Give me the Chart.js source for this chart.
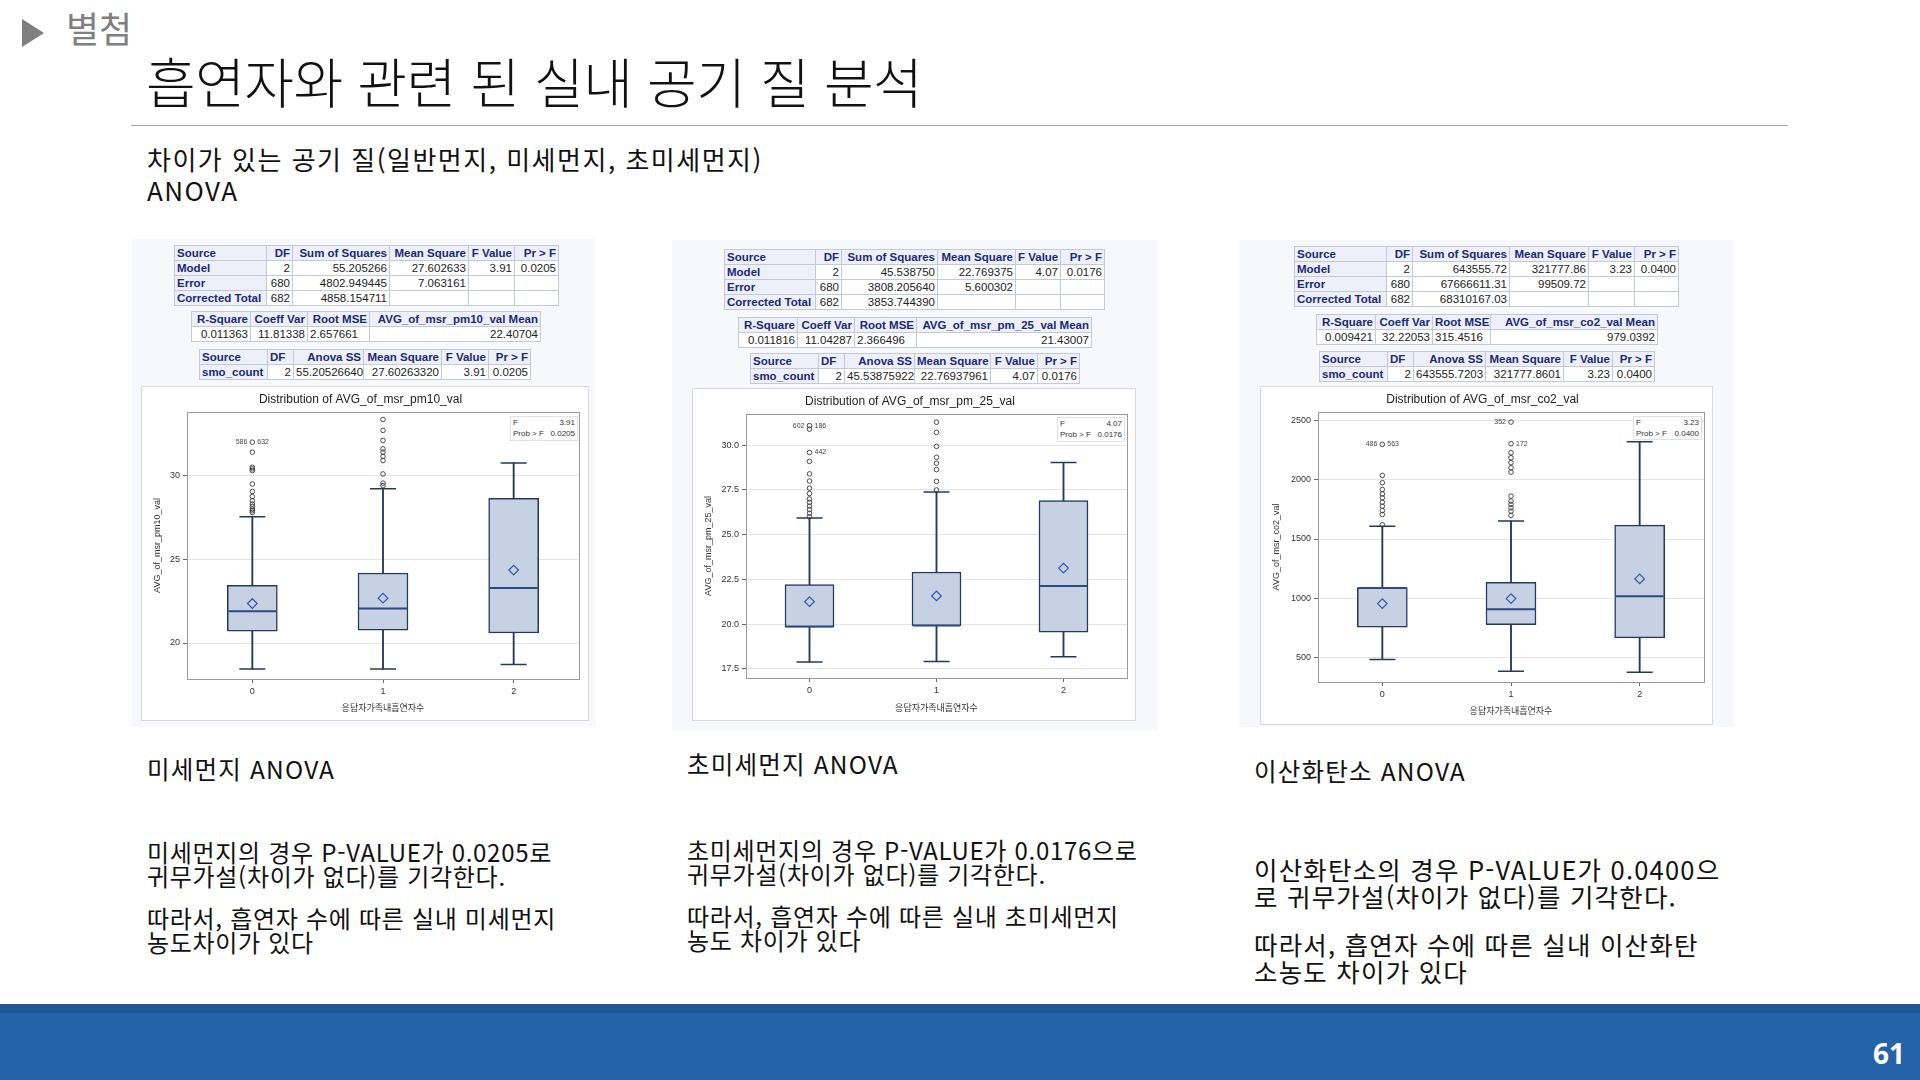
<!DOCTYPE html>
<html lang="ko">
<head>
<meta charset="utf-8">
<title>흡연자와 관련 된 실내 공기 질 분석</title>
<script src="https://cdn.jsdelivr.net/npm/chart.js@4.4.1/dist/chart.umd.min.js"></script>
<style>
    html, body { margin: 0; padding: 0; }
    body { width: 1920px; height: 1080px; position: relative; overflow: hidden; background: #fff;
           font-family: "Noto Sans CJK KR", "Noto Sans", sans-serif; color: #111; }
    .abs { position: absolute; white-space: nowrap; }
    #tri { left: 22px; top: 19px; width: 0; height: 0; border-top: 14px solid transparent;
           border-bottom: 14px solid transparent; border-left: 22px solid #7f7f7f; }
    #section { left: 66px; top: 4px; font-size: 36px; line-height: 46px; color: #7f7f7f; }
    #title { left: 146px; top: 48px; font-size: 54px; line-height: 66px; font-weight: 300; letter-spacing: -0.5px; }
    #rule { left: 131px; top: 125px; width: 1657px; height: 0; border-top: 1.5px solid #a6a6a6; }
    #subtitle { left: 147px; top: 143px; font-size: 26px; line-height: 31px; letter-spacing: 1.5px; }
    .panel { position: absolute; background: #f7f8fb; }
    .frame { position: absolute; background: #fff; outline: 1px solid #d8d8d8; }
    .sas { position: absolute; border-collapse: collapse; table-layout: fixed; background: #fff;
           font-family: "Liberation Sans", Arial, sans-serif; font-size: 11.5px; }
    .sas td, .sas th { border: 1px solid #c3c9d6; padding: 0 2px; line-height: 14px; height: 14px;
           white-space: nowrap; overflow: hidden; text-align: right; color: #222; font-weight: normal; }
    .sas th { background: #edf0f8; color: #1a2a78; font-weight: bold; }
    .sas .l { text-align: left; }
    .inset { position: absolute; background: #fff; border: 1px solid #e0e0e0; font-family: "Liberation Sans", Arial, sans-serif;
             font-size: 8px; line-height: 11px; color: #333; padding: 0 2px; box-sizing: border-box; }
    .inset div { display: flex; justify-content: space-between; }
    .head { font-size: 24.5px; line-height: 30px; letter-spacing: 1.2px; }
    .para { font-size: 24px; line-height: 24px; letter-spacing: 0.7px; }
    .para3 { font-size: 25.5px; line-height: 27px; letter-spacing: 1.2px; }
    #footer { left: 0; top: 1004px; width: 1920px; height: 76px; background: #2563a9; border-top: 9px solid #1f5796; box-sizing: border-box; }
    #page { left: 1873px; top: 1033px; font-family: "Open Sans", "Noto Sans", sans-serif; font-weight: bold; font-size: 28px; line-height: 40px; color: #fff; }
</style>
</head>
<body>

<div id="tri" class="abs"></div>
<div id="section" class="abs">별첨</div>
<div id="title" class="abs">흡연자와 관련 된 실내 공기 질 분석</div>
<div id="rule" class="abs"></div>
<div id="subtitle" class="abs">차이가 있는 공기 질(일반먼지, 미세먼지, 초미세먼지)<br>ANOVA</div>

<!-- Panel 1: PM10 -->
<div class="panel" style="left:132px; top:239px; width:463px; height:488px;"></div>
<table class="sas" style="left:174px; top:245px; width:384px;">
    <colgroup><col style="width:92px"><col style="width:26px"><col style="width:97px"><col style="width:79px"><col style="width:46px"><col style="width:44px"></colgroup>
    <tr><th class="l">Source</th><th>DF</th><th>Sum of Squares</th><th>Mean Square</th><th>F Value</th><th>Pr &gt; F</th></tr>
    <tr><th class="l">Model</th><td>2</td><td>55.205266</td><td>27.602633</td><td>3.91</td><td>0.0205</td></tr>
    <tr><th class="l">Error</th><td>680</td><td>4802.949445</td><td>7.063161</td><td></td><td></td></tr>
    <tr><th class="l">Corrected Total</th><td>682</td><td>4858.154711</td><td></td><td></td><td></td></tr>
</table>
<table class="sas" style="left:191px; top:311px; width:349px;">
    <colgroup><col style="width:59px"><col style="width:57px"><col style="width:62px"><col style="width:171px"></colgroup>
    <tr><th>R-Square</th><th>Coeff Var</th><th>Root MSE</th><th>AVG_of_msr_pm10_val Mean</th></tr>
    <tr><td>0.011363</td><td>11.81338</td><td class="l">2.657661</td><td>22.40704</td></tr>
</table>
<table class="sas" style="left:199px; top:349px; width:331px;">
    <colgroup><col style="width:68px"><col style="width:26px"><col style="width:70px"><col style="width:78px"><col style="width:47px"><col style="width:42px"></colgroup>
    <tr><th class="l">Source</th><th class="l">DF</th><th>Anova SS</th><th>Mean Square</th><th>F Value</th><th>Pr &gt; F</th></tr>
    <tr><th class="l">smo_count</th><td>2</td><td>55.20526640</td><td>27.60263320</td><td>3.91</td><td>0.0205</td></tr>
</table>
<canvas id="pm10-chart" class="frame" width="446" height="333" style="left:142px; top:387px;"></canvas>
<div class="inset" style="left:510px; top:416px; width:68px; height:25px;"><div><span>F</span><span>3.91</span></div><div><span>Prob &gt; F</span><span>0.0205</span></div></div>

<!-- Panel 2: PM2.5 -->
<div class="panel" style="left:672px; top:240px; width:486px; height:490px;"></div>
<table class="sas" style="left:724px; top:249px; width:380px;">
    <colgroup><col style="width:91px"><col style="width:26px"><col style="width:96px"><col style="width:78px"><col style="width:45px"><col style="width:44px"></colgroup>
    <tr><th class="l">Source</th><th>DF</th><th>Sum of Squares</th><th>Mean Square</th><th>F Value</th><th>Pr &gt; F</th></tr>
    <tr><th class="l">Model</th><td>2</td><td>45.538750</td><td>22.769375</td><td>4.07</td><td>0.0176</td></tr>
    <tr><th class="l">Error</th><td>680</td><td>3808.205640</td><td>5.600302</td><td></td><td></td></tr>
    <tr><th class="l">Corrected Total</th><td>682</td><td>3853.744390</td><td></td><td></td><td></td></tr>
</table>
<table class="sas" style="left:738px; top:317px; width:353px;">
    <colgroup><col style="width:59px"><col style="width:57px"><col style="width:62px"><col style="width:175px"></colgroup>
    <tr><th>R-Square</th><th>Coeff Var</th><th>Root MSE</th><th>AVG_of_msr_pm_25_val Mean</th></tr>
    <tr><td>0.011816</td><td>11.04287</td><td class="l">2.366496</td><td>21.43007</td></tr>
</table>
<table class="sas" style="left:750px; top:353px; width:329px;">
    <colgroup><col style="width:68px"><col style="width:26px"><col style="width:70px"><col style="width:76px"><col style="width:47px"><col style="width:42px"></colgroup>
    <tr><th class="l">Source</th><th class="l">DF</th><th>Anova SS</th><th>Mean Square</th><th>F Value</th><th>Pr &gt; F</th></tr>
    <tr><th class="l">smo_count</th><td>2</td><td>45.53875922</td><td>22.76937961</td><td>4.07</td><td>0.0176</td></tr>
</table>
<canvas id="pm25-chart" class="frame" width="442" height="331" style="left:693px; top:389px;"></canvas>
<div class="inset" style="left:1057px; top:417px; width:68px; height:25px;"><div><span>F</span><span>4.07</span></div><div><span>Prob &gt; F</span><span>0.0176</span></div></div>

<!-- Panel 3: CO2 -->
<div class="panel" style="left:1239px; top:240px; width:495px; height:487px;"></div>
<table class="sas" style="left:1294px; top:246px; width:384px;">
    <colgroup><col style="width:92px"><col style="width:26px"><col style="width:97px"><col style="width:79px"><col style="width:46px"><col style="width:44px"></colgroup>
    <tr><th class="l">Source</th><th>DF</th><th>Sum of Squares</th><th>Mean Square</th><th>F Value</th><th>Pr &gt; F</th></tr>
    <tr><th class="l">Model</th><td>2</td><td>643555.72</td><td>321777.86</td><td>3.23</td><td>0.0400</td></tr>
    <tr><th class="l">Error</th><td>680</td><td>67666611.31</td><td>99509.72</td><td></td><td></td></tr>
    <tr><th class="l">Corrected Total</th><td>682</td><td>68310167.03</td><td></td><td></td><td></td></tr>
</table>
<table class="sas" style="left:1316px; top:314px; width:341px;">
    <colgroup><col style="width:59px"><col style="width:57px"><col style="width:58px"><col style="width:167px"></colgroup>
    <tr><th>R-Square</th><th>Coeff Var</th><th>Root MSE</th><th>AVG_of_msr_co2_val Mean</th></tr>
    <tr><td>0.009421</td><td>32.22053</td><td class="l">315.4516</td><td>979.0392</td></tr>
</table>
<table class="sas" style="left:1319px; top:351px; width:335px;">
    <colgroup><col style="width:68px"><col style="width:26px"><col style="width:72px"><col style="width:78px"><col style="width:49px"><col style="width:42px"></colgroup>
    <tr><th class="l">Source</th><th class="l">DF</th><th>Anova SS</th><th>Mean Square</th><th>F Value</th><th>Pr &gt; F</th></tr>
    <tr><th class="l">smo_count</th><td>2</td><td>643555.7203</td><td>321777.8601</td><td>3.23</td><td>0.0400</td></tr>
</table>
<canvas id="co2-chart" class="frame" width="451" height="337" style="left:1261px; top:387px;"></canvas>
<div class="inset" style="left:1633px; top:416px; width:69px; height:24px;"><div><span>F</span><span>3.23</span></div><div><span>Prob &gt; F</span><span>0.0400</span></div></div>

<!-- Captions -->
<div class="abs head" style="left:147px; top:754px;">미세먼지 ANOVA</div>
<div class="abs head" style="left:687px; top:749px;">초미세먼지 ANOVA</div>
<div class="abs head" style="left:1254px; top:756px;">이산화탄소 ANOVA</div>

<div class="abs para" style="left:147px; top:840px;">미세먼지의 경우 P-VALUE가 0.0205로<br>귀무가설(차이가 없다)를 기각한다.</div>
<div class="abs para" style="left:147px; top:906px;">따라서, 흡연자 수에 따른 실내 미세먼지<br>농도차이가 있다</div>

<div class="abs para" style="left:687px; top:838px;">초미세먼지의 경우 P-VALUE가 0.0176으로<br>귀무가설(차이가 없다)를 기각한다.</div>
<div class="abs para" style="left:687px; top:904px;">따라서, 흡연자 수에 따른 실내 초미세먼지<br>농도 차이가 있다</div>

<div class="abs para3" style="left:1254px; top:855px;">이산화탄소의 경우 P-VALUE가 0.0400으<br>로 귀무가설(차이가 없다)를 기각한다.</div>
<div class="abs para3" style="left:1254px; top:930px;">따라서, 흡연자 수에 따른 실내 이산화탄<br>소농도 차이가 있다</div>

<div id="footer" class="abs"></div>
<div id="page" class="abs">61</div>

<script>
// Smoker count groups on the x axis.
const groups = ['0', '1', '2'];
const X_TITLE = '응답자가족내흡연자수';

// PM10 box plot statistics, per group.
const pm10Q1 = [20.70, 20.76, 20.60];
const pm10Q3 = [23.44, 24.18, 28.64];
const pm10Median = [21.90, 22.06, 23.28];
const pm10Mean = [22.36, 22.68, 24.36];
const pm10WhiskerLow = [18.44, 18.44, 18.72];
const pm10WhiskerHigh = [27.54, 29.22, 30.76];
const pm10Outliers0 = [27.8, 27.9, 28.0, 28.15, 28.3, 28.5, 28.75, 29.05, 29.5, 30.3, 30.4, 30.5, 31.4, 32.0];
const pm10Outliers1 = [29.4, 29.55, 30.1, 30.9, 31.15, 31.4, 31.6, 32.1, 32.7, 33.35];
const pm10Outliers2 = [];
const pm10Ticks = [20, 25, 30];

// PM2.5 box plot statistics, per group.
const pm25Q1 = [19.83, 19.90, 19.55];
const pm25Q3 = [22.20, 22.91, 26.90];
const pm25Median = [19.86, 19.92, 22.13];
const pm25Mean = [21.25, 21.57, 23.13];
const pm25WhiskerLow = [17.87, 17.90, 18.17];
const pm25WhiskerHigh = [25.93, 27.39, 29.03];
const pm25Outliers0 = [26.0, 26.2, 26.4, 26.6, 26.8, 27.0, 27.3, 27.6, 28.0, 28.4, 29.1, 29.6, 30.9, 31.1];
const pm25Outliers1 = [27.5, 27.98, 28.64, 29.0, 29.33, 29.94, 30.72, 31.29];
const pm25Outliers2 = [];
const pm25Ticks = [17.5, 20.0, 22.5, 25.0, 27.5, 30.0];

// CO2 box plot statistics, per group.
const co2Q1 = [755, 777, 665];
const co2Q3 = [1090, 1135, 1617];
const co2Median = [1086, 907, 1017];
const co2Mean = [955, 997, 1163];
const co2WhiskerLow = [482, 383, 375];
const co2WhiskerHigh = [1608, 1651, 2321];
const co2Outliers0 = [1620, 1707, 1740, 1777, 1810, 1848, 1880, 1918, 1975, 2037, 2299];
const co2Outliers1 = [1699, 1735, 1763, 1792, 1820, 1862, 2065, 2101, 2144, 2186, 2228, 2304, 2487];
const co2Outliers2 = [];
const co2Ticks = [500, 1000, 1500, 2000, 2500];

// Observation labels printed beside the extreme outliers: [group, value, left text, right text].
const pm10OutlierLabels = [['0', 32.0, '586', '632']];
const pm25OutlierLabels = [['0', 31.1, '602', '186'], ['0', 29.6, '', '442']];
const co2OutlierLabels = [['0', 2299, '486', '563'], ['1', 2304, '', '172'], ['1', 2487, '352', '']];

const LINE_COLOR = '#24395e';
const BOX_FILL = '#c6d1e4';
const MEDIAN_COLOR = '#2d4b82';
const MEAN_COLOR = '#3556a8';

// Draws the frame round the plot area.
const plotFrame = {
    id: 'plotFrame',
    beforeDatasetsDraw(chart) {
        const a = chart.chartArea;
        const ctx = chart.ctx;
        ctx.save();
        ctx.strokeStyle = '#9a9a9a';
        ctx.lineWidth = 1;
        ctx.strokeRect(Math.round(a.left) + 0.5, Math.round(a.top) + 0.5,
            Math.round(a.right - a.left), Math.round(a.bottom - a.top));
        ctx.restore();
    }
};

// Writes observation labels next to outliers, positioned through the chart scales.
const outlierText = {
    id: 'outlierText',
    afterDatasetsDraw(chart, args, opts) {
        const ctx = chart.ctx;
        ctx.save();
        ctx.font = '7px "Liberation Sans", Arial';
        ctx.fillStyle = '#444';
        ctx.textBaseline = 'middle';
        for (const [g, v, left, right] of (opts.items || [])) {
            const x = chart.scales.x.getPixelForValue(groups.indexOf(g));
            const y = chart.scales.y.getPixelForValue(v);
            ctx.textAlign = 'right';
            ctx.fillText(left, x - 5, y);
            ctx.textAlign = 'left';
            ctx.fillText(right, x + 5, y);
        }
        ctx.restore();
    }
};

function point_dataset(data, style, radius, color, width, order) {
    return {
        type: 'line',
        data: data,
        showLine: false,
        pointStyle: style,
        pointRadius: radius,
        pointHoverRadius: radius,
        pointBorderColor: color,
        borderColor: color,
        pointBorderWidth: width,
        pointBackgroundColor: 'rgba(0,0,0,0)',
        backgroundColor: 'rgba(0,0,0,0)',
        order: order,
    };
}

function box_chart(id, o) {
    const outliers = [];
    o.outliers.forEach((list, g) => list.forEach(v => outliers.push({ x: groups[g], y: v })));

    return new Chart(document.getElementById(id), {
        type: 'bar',
        data: {
            labels: groups,
            datasets: [
                {
                    label: 'whisker',
                    data: o.whiskerLow.map((v, i) => [v, o.whiskerHigh[i]]),
                    backgroundColor: LINE_COLOR,
                    barThickness: 1.2,
                    grouped: false,
                    order: 7,
                },
                {
                    label: 'box',
                    data: o.q1.map((v, i) => [v, o.q3[i]]),
                    backgroundColor: BOX_FILL,
                    borderColor: LINE_COLOR,
                    borderWidth: 1.5,
                    borderSkipped: false,
                    barThickness: o.boxWidth,
                    grouped: false,
                    order: 6,
                },
                point_dataset(o.median, 'line', o.boxWidth / 2 - 1, MEDIAN_COLOR, 2, 5),
                point_dataset(o.whiskerLow, 'line', 13, LINE_COLOR, 1.5, 4),
                point_dataset(o.whiskerHigh, 'line', 13, LINE_COLOR, 1.5, 4),
                point_dataset(o.mean, 'rectRot', 4.8, MEAN_COLOR, 1.2, 3),
                point_dataset(outliers, 'circle', 2.3, '#3a3a3a', 0.9, 2),
            ],
        },
        plugins: [plotFrame, outlierText],
        options: {
            responsive: false,
            animation: false,
            events: [],
            devicePixelRatio: 1,
            layout: { autoPadding: false, padding: { right: o.rightPad } },
            plugins: {
                legend: { display: false },
                tooltip: { enabled: false },
                outlierText: { items: o.labels },
                title: {
                    display: true,
                    text: o.title,
                    color: '#222',
                    font: { family: '"Liberation Sans", Arial', size: 12, weight: 'normal' },
                    padding: { top: 5.8, bottom: 4.8 },
                },
            },
            scales: {
                x: {
                    type: 'category',
                    offset: true,
                    border: { display: false },
                    grid: { offset: false, drawOnChartArea: false, tickLength: 4, tickColor: '#666' },
                    ticks: { color: '#333', padding: 3, font: { family: '"Liberation Sans", Arial', size: 9 } },
                    title: {
                        display: true,
                        text: X_TITLE,
                        color: '#333',
                        font: { family: '"Noto Sans CJK KR"', size: 9 },
                        padding: { top: 0, bottom: o.xTitlePad },
                    },
                    afterFit: s => { s.height = o.xAxisHeight; },
                },
                y: {
                    min: o.yMin,
                    max: o.yMax,
                    border: { display: false },
                    grid: { color: '#e4e4e4', tickLength: 4, tickColor: '#666' },
                    afterBuildTicks: s => { s.ticks = o.ticks.map(v => ({ value: v })); },
                    ticks: {
                        color: '#333',
                        padding: 3,
                        font: { family: '"Liberation Sans", Arial', size: 9 },
                        callback: v => o.decimals ? v.toFixed(o.decimals) : String(v),
                    },
                    title: {
                        display: true,
                        text: o.yTitle,
                        color: '#333',
                        font: { family: '"Liberation Sans", Arial', size: 9 },
                        padding: { top: 10, bottom: 0 },
                    },
                    afterFit: s => { s.width = o.yAxisWidth; },
                },
            },
        },
    });
}

box_chart('pm10-chart', {
    title: 'Distribution of AVG_of_msr_pm10_val',
    yTitle: 'AVG_of_msr_pm10_val',
    q1: pm10Q1, q3: pm10Q3, median: pm10Median, mean: pm10Mean,
    whiskerLow: pm10WhiskerLow, whiskerHigh: pm10WhiskerHigh,
    outliers: [pm10Outliers0, pm10Outliers1, pm10Outliers2],
    labels: pm10OutlierLabels,
    ticks: pm10Ticks, decimals: 0,
    yMin: 17.85, yMax: 33.8,
    boxWidth: 50, yAxisWidth: 45, xAxisHeight: 41, rightPad: 9, xTitlePad: 7.5,
});

box_chart('pm25-chart', {
    title: 'Distribution of AVG_of_msr_pm_25_val',
    yTitle: 'AVG_of_msr_pm_25_val',
    q1: pm25Q1, q3: pm25Q3, median: pm25Median, mean: pm25Mean,
    whiskerLow: pm25WhiskerLow, whiskerHigh: pm25WhiskerHigh,
    outliers: [pm25Outliers0, pm25Outliers1, pm25Outliers2],
    labels: pm25OutlierLabels,
    ticks: pm25Ticks, decimals: 1,
    yMin: 16.98, yMax: 31.75,
    boxWidth: 49, yAxisWidth: 53, xAxisHeight: 42, rightPad: 8, xTitlePad: 7.5,
});

box_chart('co2-chart', {
    title: 'Distribution of AVG_of_msr_co2_val',
    yTitle: 'AVG_of_msr_co2_val',
    q1: co2Q1, q3: co2Q3, median: co2Median, mean: co2Mean,
    whiskerLow: co2WhiskerLow, whiskerHigh: co2WhiskerHigh,
    outliers: [co2Outliers0, co2Outliers1, co2Outliers2],
    labels: co2OutlierLabels,
    ticks: co2Ticks, decimals: 0,
    yMin: 293, yMax: 2572,
    boxWidth: 50, yAxisWidth: 57, xAxisHeight: 42, rightPad: 8, xTitlePad: 8.5,
});
</script>
</body>
</html>
